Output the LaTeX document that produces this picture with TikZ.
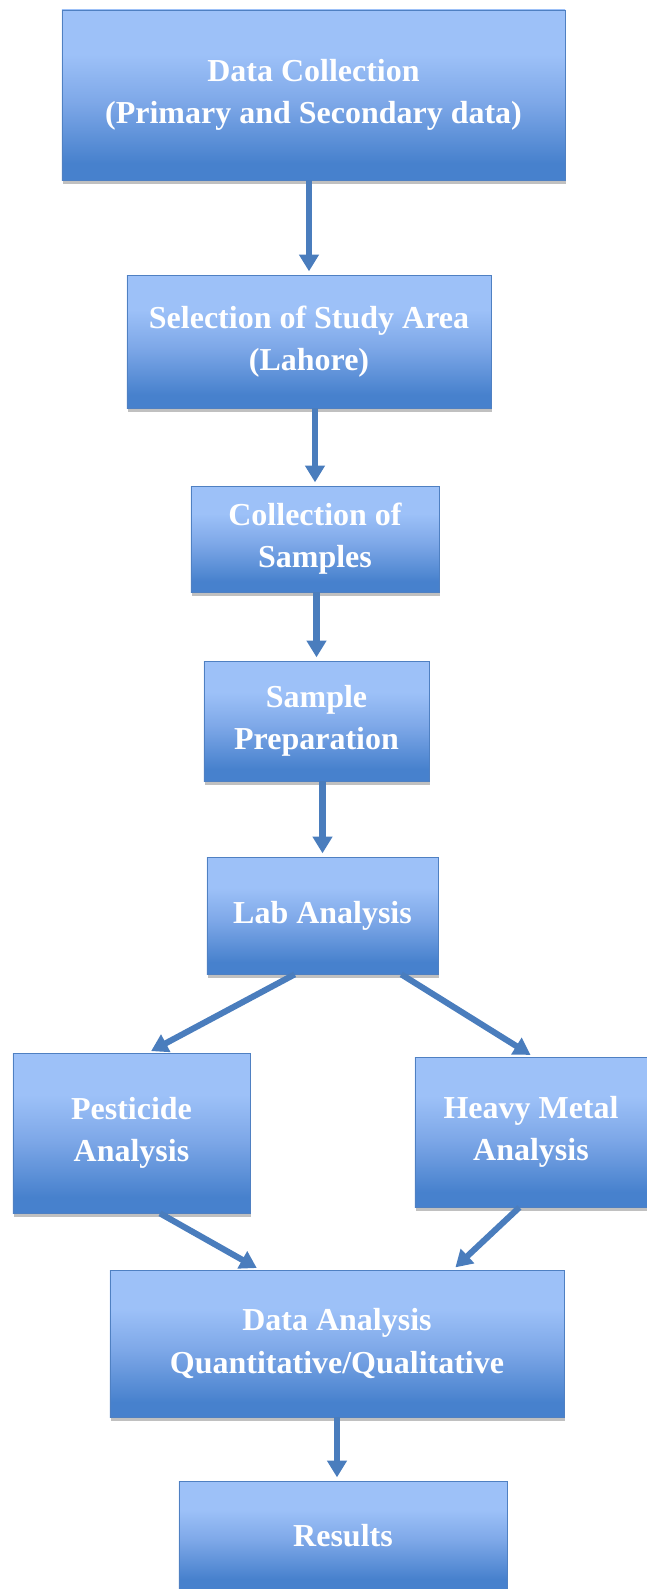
\documentclass[tikz,border=0pt]{standalone}
\usepackage{fontspec}
\setmainfont{Liberation Serif}
\usetikzlibrary{arrows.meta,calc,shadows}

\definecolor{boxtop}{HTML}{9DC1F8}
\definecolor{boxmid}{HTML}{7EA8E8}
\definecolor{boxbot}{HTML}{4781CD}
\definecolor{boxedge}{HTML}{4F80C2}
\definecolor{flowblue}{HTML}{4A7DBD}
\pgfdeclareverticalshading{boxshade}{100bp}{color(0bp)=(boxbot); color(25bp)=(boxbot); color(30bp)=(boxbot); color(48bp)=(boxmid); color(62bp)=(boxtop); color(75bp)=(boxtop); color(100bp)=(boxtop)}

\begin{document}
\begin{tikzpicture}[x=0.03cm,y=-0.03cm,
  stepbox/.style={draw=boxedge, line width=0.6pt, shading=boxshade,
    drop shadow={shadow xshift=1pt, shadow yshift=-3pt, opacity=0.45, fill=black!55},
    text=white, align=center, inner sep=0pt,
    font=\bfseries\fontsize{27.3}{35.9}\selectfont},
  flow/.style={draw=flowblue, line width=5.2pt, shorten >=0.1cm,
    -{Triangle[width=0.57cm,length=0.5cm]}}]
 \useasboundingbox (0,0) rectangle (647,1589);

 % boxes
 \node[stepbox, minimum width=15.09cm, minimum height=5.1cm] (collect) at (313.5,95) {Data Collection\\(Primary and Secondary data)};
 \node[stepbox, minimum width=10.92cm, minimum height=3.99cm] (area) at (309,341.5) {Selection of Study Area\\(Lahore)};
 \node[stepbox, minimum width=7.44cm, minimum height=3.18cm] (samples) at (315,539) {Collection of\\Samples};
 \node[stepbox, minimum width=6.75cm, minimum height=3.6cm] (prep) at (316.5,721) {Sample\\Preparation};
 \node[stepbox, minimum width=6.93cm, minimum height=3.51cm] (lab) at (322.5,915.5) {Lab Analysis};
 \node[stepbox, minimum width=7.11cm, minimum height=4.8cm] (pest) at (131.5,1133) {Pesticide\\Analysis};
 \node[stepbox, minimum width=6.96cm, minimum height=4.5cm] (metal) at (531,1132) {Heavy Metal\\Analysis};
 \node[stepbox, minimum width=13.62cm, minimum height=4.41cm] (analysis) at (337,1343.5) {Data Analysis\\Quantitative/Qualitative};
 \node[stepbox, minimum width=9.84cm, minimum height=3.27cm] (results) at (343,1535.5) {Results};

 % arrows
 \draw[flow] (area.north |- collect.south) -- (area.north);
 \draw[flow] (samples.north |- area.south) -- (samples.north);
 \draw[flow] (prep.north |- samples.south) -- (prep.north);
 \draw[flow] (lab.north |- prep.south) -- (lab.north);
 \draw[flow] ($(lab.south west)!0.38!(lab.south east)$) -- ($(pest.north west)!0.57!(pest.north east)$);
 \draw[flow] ($(lab.south west)!0.84!(lab.south east)$) -- ($(metal.north west)!0.51!(metal.north east)$);
 \draw[flow] ($(pest.south west)!0.62!(pest.south east)$) -- ($(analysis.north west)!0.33!(analysis.north east)$);
 \draw[flow] ($(metal.south west)!0.45!(metal.south east)$) -- ($(analysis.north west)!0.755!(analysis.north east)$);
 \draw[flow] (analysis.south) -- (analysis.south |- results.north);
\end{tikzpicture}
\end{document}
